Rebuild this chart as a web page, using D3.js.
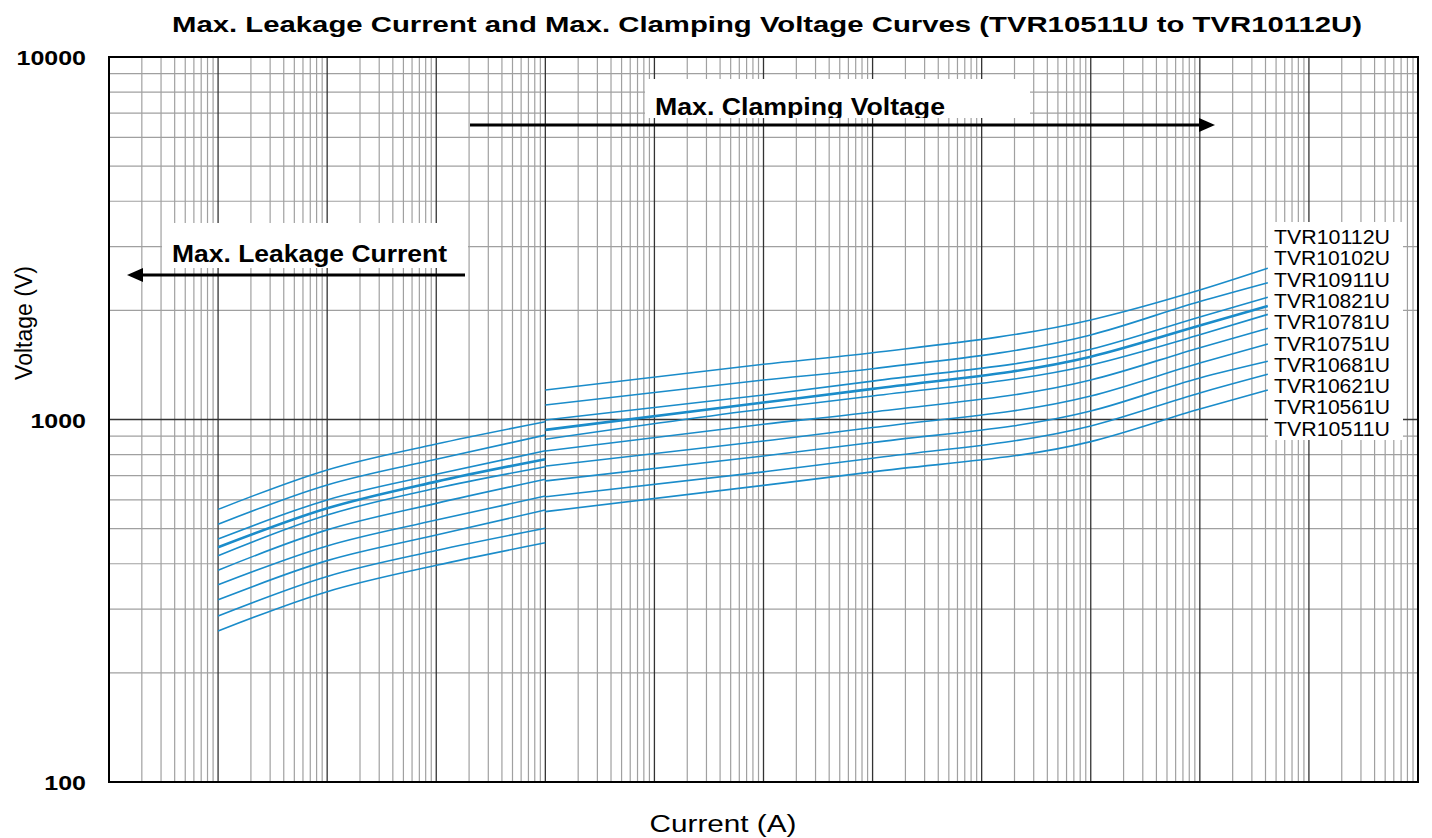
<!DOCTYPE html>
<html>
<head>
<meta charset="utf-8">
<script src="https://cdn.jsdelivr.net/npm/d3@7"></script>
<style>
  body { margin: 0; background: #fff; }
  text { font-family: Arial, "Liberation Sans", sans-serif; }
</style>
</head>
<body>
<div id="chart"></div>
<script>
// series, top line first
var seriesNames = ["TVR10112U", "TVR10102U", "TVR10911U", "TVR10821U", "TVR10781U",
                   "TVR10751U", "TVR10681U", "TVR10621U", "TVR10561U", "TVR10511U"];

// max. leakage current region (A) and voltages (V), one row per series
var leakCurrent = [1e-5, 1e-4, 1e-3, 1e-2];
var leakVoltage = [
  [565, 726, 856, 986],
  [514, 660, 777, 906],
  [468, 600, 706, 820],
  [444, 569, 674, 777],
  [421, 545, 646, 741],
  [384, 496, 587, 684],
  [350, 448, 528, 615],
  [318, 408, 480, 563],
  [287, 369, 435, 501],
  [261, 335, 396, 457]
];

// max. clamping voltage region
var clampCurrent = [1e-2, 1, 10, 1000, 1e4, 42000];
var clampVoltage = [
  [1206, 1420, 1528, 1882, 2276, 2614],
  [1096, 1285, 1381, 1711, 2116, 2385],
  [997, 1168, 1276, 1562, 1918, 2173],
  [936, 1114, 1215, 1490, 1817, 2056],
  [882, 1069, 1161, 1414, 1713, 1950],
  [819, 970, 1049, 1285, 1578, 1785],
  [744, 872, 950, 1161, 1432, 1616],
  [677, 793, 864, 1055, 1302, 1447],
  [612, 717, 782, 960, 1184, 1333],
  [557, 658, 717, 869, 1069, 1206]
];

var yTickValues = [100, 1000, 10000];
var yTickLabels = ["100", "1000", "10000"];

var width = 1432, height = 838;
var svg = d3.select("#chart").append("svg")
  .attr("width", width)
  .attr("height", height);

var x = d3.scaleLog().domain([1e-6, 1e6]).range([109, 1418]);
var y = d3.scaleLog().domain([100, 10000]).range([782, 57]);

// stretch a text to a wanted width
function fitWidth(sel, w) {
  sel.attr("textLength", w).attr("lengthAdjust", "spacingAndGlyphs");
}

// grid
var minorX = [], majorX = [];
for (var e = -6; e <= 6; e++) {
  majorX.push(Math.pow(10, e));
  if (e < 6) for (var m = 2; m < 10; m++) minorX.push(m * Math.pow(10, e));
}
var minorY = [], majorY = [];
for (var e2 = 2; e2 <= 4; e2++) {
  majorY.push(Math.pow(10, e2));
  if (e2 < 4) for (var m2 = 2; m2 < 10; m2++) minorY.push(m2 * Math.pow(10, e2));
}

var grid = svg.append("g");
grid.selectAll(".mx").data(minorX).enter().append("line")
  .attr("x1", function(d) { return x(d); }).attr("x2", function(d) { return x(d); })
  .attr("y1", y(10000)).attr("y2", y(100))
  .attr("stroke", "#a0a0a0").attr("stroke-width", 1.2);
grid.selectAll(".my").data(minorY).enter().append("line")
  .attr("y1", function(d) { return y(d); }).attr("y2", function(d) { return y(d); })
  .attr("x1", x(1e-6)).attr("x2", x(1e6))
  .attr("stroke", "#a0a0a0").attr("stroke-width", 1.2);
grid.selectAll(".Mx").data(majorX).enter().append("line")
  .attr("x1", function(d) { return x(d); }).attr("x2", function(d) { return x(d); })
  .attr("y1", y(10000)).attr("y2", y(100))
  .attr("stroke", "#333").attr("stroke-width", 1.3);
grid.selectAll(".My").data(majorY).enter().append("line")
  .attr("y1", function(d) { return y(d); }).attr("y2", function(d) { return y(d); })
  .attr("x1", x(1e-6)).attr("x2", x(1e6))
  .attr("stroke", "#333").attr("stroke-width", 1.3);

svg.append("rect")
  .attr("x", x(1e-6)).attr("y", y(10000))
  .attr("width", x(1e6) - x(1e-6)).attr("height", y(100) - y(10000))
  .attr("fill", "none").attr("stroke", "#000").attr("stroke-width", 2);

// y tick labels
svg.selectAll(".ytick").data(yTickValues).enter().append("text")
  .attr("x", 86)
  .attr("y", function(d) { return y(d) + 8; })
  .attr("text-anchor", "end")
  .attr("font-size", "21px")
  .attr("font-weight", "bold")
  .text(function(d, i) { return yTickLabels[i]; })
  .each(function(d, i) { fitWidth(d3.select(this), yTickLabels[i].length * 13.9); });

// curves
var line = d3.line()
  .x(function(d) { return x(d[0]); })
  .y(function(d) { return y(d[1]); })
  .curve(d3.curveMonotoneX);

var curves = svg.append("g");
seriesNames.forEach(function(name, i) {
  var leak = leakCurrent.map(function(c, j) { return [c, leakVoltage[i][j]]; });
  var clamp = clampCurrent.map(function(c, j) { return [c, clampVoltage[i][j]]; });
  [leak, clamp].forEach(function(pts) {
    curves.append("path")
      .datum(pts)
      .attr("d", line)
      .attr("fill", "none")
      .attr("stroke", "#1a8cca")
      .attr("stroke-width", name == "TVR10821U" ? 2.6 : 1.6);
  });
});

// annotation boxes
svg.append("rect").attr("x", 645).attr("y", 79).attr("width", 385).attr("height", 39).attr("fill", "#fff");
svg.append("rect").attr("x", 162).attr("y", 223).attr("width", 306).attr("height", 45).attr("fill", "#fff");
svg.append("rect").attr("x", 1268).attr("y", 222).attr("width", 135).attr("height", 218).attr("fill", "#fff");

svg.append("clipPath").attr("id", "clampClip")
  .append("rect").attr("x", 645).attr("y", 79).attr("width", 385).attr("height", 39);

svg.append("text")
  .attr("x", 655).attr("y", 115)
  .attr("clip-path", "url(#clampClip)")
  .attr("font-size", "23px").attr("font-weight", "bold")
  .text("Max. Clamping Voltage")
  .call(fitWidth, 290);

svg.append("text")
  .attr("x", 172).attr("y", 262)
  .attr("font-size", "23px").attr("font-weight", "bold")
  .text("Max. Leakage Current")
  .call(fitWidth, 275);

// arrows
svg.append("line").attr("x1", 470).attr("y1", 125).attr("x2", 1200).attr("y2", 125)
  .attr("stroke", "#000").attr("stroke-width", 3);
svg.append("path").attr("d", "M1215,125 L1199,118 L1199,132 Z").attr("fill", "#000");
svg.append("line").attr("x1", 465).attr("y1", 275).attr("x2", 142).attr("y2", 275)
  .attr("stroke", "#000").attr("stroke-width", 3);
svg.append("path").attr("d", "M127,275 L143,268 L143,282 Z").attr("fill", "#000");

// series labels
svg.selectAll(".lab").data(seriesNames).enter().append("text")
  .attr("x", 1274)
  .attr("y", function(d, i) { return 244 + i * 21.3; })
  .attr("font-size", "20.5px")
  .text(function(d) { return d; })
  .call(fitWidth, 116);

// titles
svg.append("text")
  .attr("x", 767).attr("y", 32)
  .attr("text-anchor", "middle")
  .attr("font-size", "22px").attr("font-weight", "bold")
  .text("Max. Leakage Current and Max. Clamping Voltage Curves (TVR10511U to TVR10112U)")
  .call(fitWidth, 1190);

svg.append("text")
  .attr("transform", "translate(32,323) rotate(-90)")
  .attr("text-anchor", "middle")
  .attr("font-size", "23px")
  .text("Voltage (V)");

svg.append("text")
  .attr("x", 723).attr("y", 832)
  .attr("text-anchor", "middle")
  .attr("font-size", "23px")
  .text("Current (A)")
  .call(fitWidth, 147);
</script>
</body>
</html>
